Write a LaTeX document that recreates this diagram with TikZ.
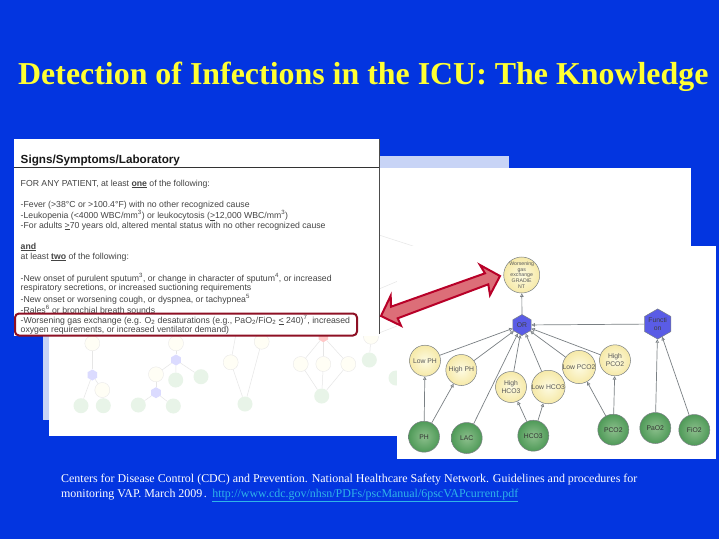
\documentclass[tikz,border=0pt]{standalone}
\usepackage{fontspec}
\setmainfont{Liberation Serif}
\newfontfamily\docfont{Liberation Sans}
\usetikzlibrary{shapes.geometric,arrows.meta}
\definecolor{slidebg}{HTML}{0335E0}
\definecolor{lav}{HTML}{C8D4F6}
\definecolor{titley}{HTML}{FFFF33}
\definecolor{linkc}{HTML}{2FB4E8}
\definecolor{doctxt}{HTML}{444444}
\definecolor{redbox}{HTML}{8E1024}
\definecolor{arrowedge}{HTML}{B80028}
\definecolor{arrowfill}{HTML}{DC6E78}
\definecolor{edgec}{HTML}{7A8084}
\definecolor{faintedge}{HTML}{E6E6E6}
\definecolor{ylin}{HTML}{FDFBE2}
\definecolor{ylout}{HTML}{F6E9A8}
\definecolor{grin}{HTML}{8CBF8C}
\definecolor{grout}{HTML}{4F9A58}
\definecolor{hexc}{HTML}{5A5CE6}
\tikzset{
  doctext/.style={anchor=west,inner sep=0pt,font=\docfont\fontsize{8.7}{10}\selectfont,text=doctxt},
  yellownode/.style={circle,draw=edgec,line width=.5pt,inner color=ylin,outer color=ylout,minimum size=31pt,inner sep=0pt,align=center,text=black!65,font=\docfont\fontsize{6.8}{7.6}\selectfont},
  greennode/.style={circle,draw=edgec,line width=.5pt,inner color=grin,outer color=grout,minimum size=31pt,inner sep=0pt,align=center,text=black!80,font=\docfont\fontsize{6.8}{7.6}\selectfont},
  hexnode/.style={regular polygon,regular polygon sides=6,shape border rotate=30,draw=edgec,line width=.5pt,fill=hexc,minimum size=21pt,inner sep=0pt,align=center,text=black!75,font=\docfont\fontsize{6.8}{7.2}\selectfont},
  conn/.style={edgec,line width=.7pt,-{Triangle[open,length=3.5pt,width=3.5pt]}},
  fy/.style={circle,draw=black!10,line width=.3pt,fill=yellow!4,minimum size=15pt,inner sep=0pt},
  fg/.style={circle,fill=green!50!black!9,minimum size=15pt,inner sep=0pt},
  fh/.style={regular polygon,regular polygon sides=6,shape border rotate=30,fill=blue!14,minimum size=11pt,inner sep=0pt},
  fp/.style={regular polygon,regular polygon sides=6,shape border rotate=30,fill=red!22,minimum size=11pt,inner sep=0pt},
  fe/.style={faintedge,line width=.5pt},
}
\begin{document}
\begin{tikzpicture}[x=1pt,y=-1pt]
\useasboundingbox (0,0) rectangle (719,539);
\fill[slidebg] (0,0) rectangle (719,539);
\node[anchor=base west,inner sep=0pt,text=titley,font=\bfseries\fontsize{31.9}{34}\selectfont] (title) at (18,84) {Detection of Infections in the ICU: The Knowledge};

% stacked sheets
\fill[lav] (43,156) rectangle (509,420);
\fill[white] (49,168) rectangle (691,436);

% faded graph on the middle sheet
\node[fy] (a1) at (92.3,343.3) {};
\node[fh] (a2) at (92.3,375) {};
\node[fy] (a3) at (102.3,390) {};
\node[fg] (a4) at (81,405.7) {};
\node[fg] (a5) at (103.3,405.7) {};
\node[fy] (b1) at (176,343.3) {};
\node[fh] (b2) at (176,360) {};
\node[fy] (b3) at (156,374.3) {};
\node[fg] (b4) at (175.7,380) {};
\node[fg] (b5) at (201,376.7) {};
\node[fh] (b6) at (156,392.7) {};
\node[fg] (b7) at (138.3,405) {};
\node[fg] (b8) at (173.3,406) {};
\node[fy] (c1) at (261.7,341.7) {};
\node[fy] (c2) at (230.7,362.3) {};
\node[fg] (c3) at (245,404) {};
\coordinate (c4) at (236,334);
\node[fp] (d1) at (323.3,336.7) {};
\node[fy] (d2) at (300.7,364) {};
\node[fy] (d3) at (323.3,364) {};
\node[fy] (d4) at (348.3,364) {};
\node[fg] (d5) at (321.7,396) {};
\node[fy] (e1) at (371,336.7) {};
\node[fg] (e2) at (369.3,360) {};
\node[fg] (e3) at (396,378) {};
\coordinate (f1) at (379,235);
\coordinate (f2) at (413,246);
\coordinate (f3) at (379,289);
\coordinate (f4) at (398,281);
\coordinate (f5) at (379,333);
\coordinate (f6) at (397,326);
\foreach \p/\q in {a1/a2,a2/a4,a2/a3,a3/a5,b1/b2,b2/b3,b2/b4,b2/b5,b3/b6,b6/b7,b6/b8,c1/c3,c2/c3,c2/c4,d1/d2,d1/d3,d1/d4,d2/d5,d3/d5,d4/d5,e1/e2,f1/f2,f3/f4,f5/f6}
  \draw[fe] (\p) -- (\q);

% front sheet with the graph
\fill[white] (397,246) rectangle (716,459);

% document excerpt
\fill[white] (14,139) rectangle (379,336);
\coordinate (edget) at (379,139);
\coordinate (edgeb) at (379,334);
\draw[black!70,line width=.7pt] (edget) -- (edgeb);
\node[anchor=west,inner sep=0pt,font=\docfont\bfseries\fontsize{11.7}{13}\selectfont,text=black!90] (dhead) at (20.5,160) {Signs/Symptoms/Laboratory};
\coordinate (rulel) at (14,167.3);
\coordinate (ruler) at (379,167.3);
\draw[black!80,line width=.6pt] (rulel) -- (ruler);
\node[doctext] (t1) at (20.5,184) {FOR ANY PATIENT, at least \textbf{\underline{one}} of the following:};
\node[doctext] (t2) at (20.5,205) {-Fever (>38°C or >100.4°F) with no other recognized cause};
\node[doctext] (t3) at (20.5,215.5) {-Leukopenia (<4000 WBC/mm\textsuperscript{3}) or leukocytosis (\underline{>}12,000 WBC/mm\textsuperscript{3})};
\node[doctext] (t4) at (20.5,226) {-For adults \underline{>}70 years old, altered mental status with no other recognized cause};
\node[doctext,font=\docfont\bfseries\fontsize{8.7}{10}\selectfont] (t5) at (20.5,247) {\underline{and}};
\node[doctext] (t6) at (20.5,257) {at least \textbf{\underline{two}} of the following:};
\node[doctext] (t7) at (20.5,278) {-New onset of purulent sputum\textsuperscript{3}, or change in character of sputum\textsuperscript{4}, or increased};
\node[doctext] (t8) at (20.5,288.5) {respiratory secretions, or increased suctioning requirements};
\node[doctext] (t9) at (20.5,299) {-New onset or worsening cough, or dyspnea, or tachypnea\textsuperscript{5}};
\node[doctext] (t10) at (20.5,309.5) {-Rales\textsuperscript{6} or bronchial breath sounds};
\node[doctext] (t11) at (20.5,320) {-Worsening gas exchange (e.g. O\textsubscript{2} desaturations (e.g., PaO\textsubscript{2}/FiO\textsubscript{2} \underline{<} 240)\textsuperscript{7}, increased};
\node[doctext] (t12) at (20.5,330.5) {oxygen requirements, or increased ventilator demand)};
\draw[redbox,line width=2pt,rounded corners=4pt] (15,313.5) rectangle (357,335.5);

% graph
\node[yellownode,minimum size=32pt,font=\docfont\fontsize{5.2}{5.6}\selectfont] (w) at (521.7,275) {Worsening\\gas\\exchange\\GRADIE\\NT};
\node[hexnode] (or) at (522,325) {OR};
\node[hexnode] (fn) at (657.7,324) {Functi\\on};
\node[yellownode] (lph) at (425,360.7) {Low PH};
\node[yellownode] (hph) at (461.3,370) {High PH};
\node[yellownode] (hh) at (511,387) {High\\HCO3};
\node[yellownode] (lh) at (548.3,387) {Low HCO3};
\node[yellownode] (lp) at (579,367) {Low PCO2};
\node[yellownode] (hp) at (615,360.3) {High\\PCO2};
\node[greennode] (ph) at (424,436.7) {PH};
\node[greennode] (lac) at (466.7,438) {LAC};
\node[greennode] (hco) at (533.3,435.7) {HCO3};
\node[greennode] (pco) at (613.3,429.7) {PCO2};
\node[greennode] (pao) at (655.3,428) {PaO2};
\node[greennode] (fio) at (694.3,430) {FiO2};
\foreach \p/\q in {or/w,fn/or,lph/or,hph/or,hh/or,lh/or,lp/or,hp/or,lac/or,ph/lph,ph/hph,hco/hh,hco/lh,pco/lp,pco/hp,pao/fn,fio/fn}
  \draw[conn] (\p) -- (\q);

% double arrow
\coordinate (al) at (381,316);
\coordinate (al1) at (390.7,295.7);
\coordinate (al2) at (391,306.7);
\coordinate (ar1) at (485,273.3);
\coordinate (ar2) at (480,265);
\coordinate (ar) at (500,276);
\coordinate (ar3) at (490,295);
\coordinate (ar4) at (488.3,284.3);
\coordinate (al3) at (397.7,318.3);
\coordinate (al4) at (401,325.7);
\draw[arrowedge,fill=arrowfill,line width=2pt,line join=miter] (al) -- (al1) -- (al2) -- (ar1) -- (ar2) -- (ar) -- (ar3) -- (ar4) -- (al3) -- (al4) -- cycle;

% citation
\node[anchor=base west,inner sep=0pt,text=white,font=\fontsize{11.95}{13}\selectfont] (cite1) at (61,482.5) {Centers for Disease Control (CDC) and Prevention. National Healthcare Safety Network. Guidelines and procedures for};
\node[anchor=base west,inner sep=0pt,text=white,font=\fontsize{11.95}{13}\selectfont] (cite2) at (61,497) {monitoring VAP. March 2009\kern1.5pt. \kern1.5pt\textcolor{linkc}{\underline{http://www.cdc.gov/nhsn/PDFs/pscManual/6pscVAPcurrent.pdf}}};
\end{tikzpicture}
\end{document}
